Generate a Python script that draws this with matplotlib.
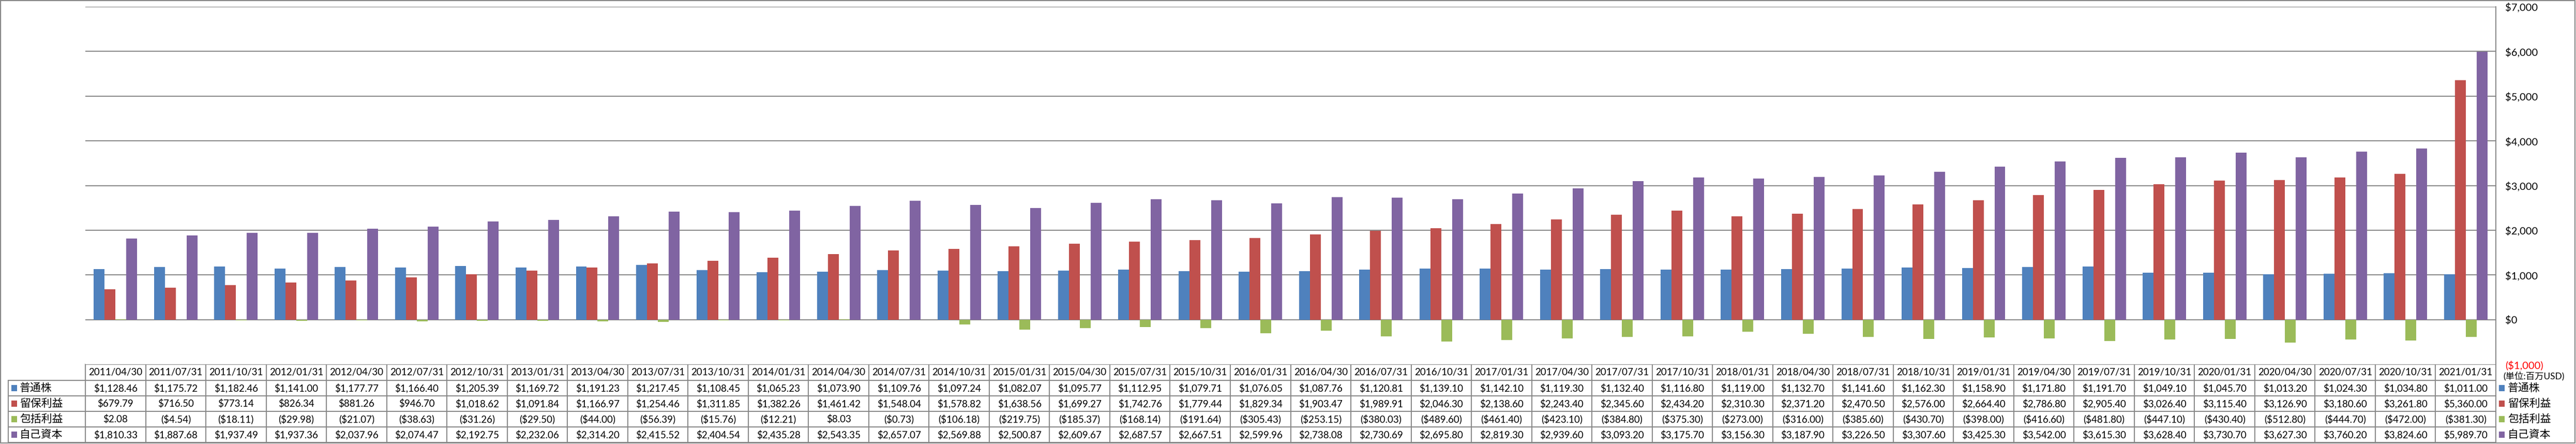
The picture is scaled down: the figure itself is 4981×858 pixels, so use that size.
import numpy as np
import matplotlib
matplotlib.use('Agg')
import matplotlib.pyplot as plt
from matplotlib import transforms
from matplotlib.patches import Rectangle

plt.rcParams['font.family'] = ['Lato', 'Noto Sans CJK JP', 'DejaVu Sans']

# data (単位:百万USD)
dates = ['2011/04/30', '2011/07/31', '2011/10/31', '2012/01/31', '2012/04/30', '2012/07/31',
         '2012/10/31', '2013/01/31', '2013/04/30', '2013/07/31', '2013/10/31', '2014/01/31',
         '2014/04/30', '2014/07/31', '2014/10/31', '2015/01/31', '2015/04/30', '2015/07/31',
         '2015/10/31', '2016/01/31', '2016/04/30', '2016/07/31', '2016/10/31', '2017/01/31',
         '2017/04/30', '2017/07/31', '2017/10/31', '2018/01/31', '2018/04/30', '2018/07/31',
         '2018/10/31', '2019/01/31', '2019/04/30', '2019/07/31', '2019/10/31', '2020/01/31',
         '2020/04/30', '2020/07/31', '2020/10/31', '2021/01/31']
common = [1128.46, 1175.72, 1182.46, 1141.00, 1177.77, 1166.40, 1205.39, 1169.72, 1191.23, 1217.45,
          1108.45, 1065.23, 1073.90, 1109.76, 1097.24, 1082.07, 1095.77, 1112.95, 1079.71, 1076.05,
          1087.76, 1120.81, 1139.10, 1142.10, 1119.30, 1132.40, 1116.80, 1119.00, 1132.70, 1141.60,
          1162.30, 1158.90, 1171.80, 1191.70, 1049.10, 1045.70, 1013.20, 1024.30, 1034.80, 1011.00]
retained = [679.79, 716.50, 773.14, 826.34, 881.26, 946.70, 1018.62, 1091.84, 1166.97, 1254.46,
            1311.85, 1382.26, 1461.42, 1548.04, 1578.82, 1638.56, 1699.27, 1742.76, 1779.44, 1829.34,
            1903.47, 1989.91, 2046.30, 2138.60, 2243.40, 2345.60, 2434.20, 2310.30, 2371.20, 2470.50,
            2576.00, 2664.40, 2786.80, 2905.40, 3026.40, 3115.40, 3126.90, 3180.60, 3261.80, 5360.00]
comprehensive = [2.08, -4.54, -18.11, -29.98, -21.07, -38.63, -31.26, -29.50, -44.00, -56.39,
                 -15.76, -12.21, 8.03, -0.73, -106.18, -219.75, -185.37, -168.14, -191.64, -305.43,
                 -253.15, -380.03, -489.60, -461.40, -423.10, -384.80, -375.30, -273.00, -316.00, -385.60,
                 -430.70, -398.00, -416.60, -481.80, -447.10, -430.40, -512.80, -444.70, -472.00, -381.30]
equity = [1810.33, 1887.68, 1937.49, 1937.36, 2037.96, 2074.47, 2192.75, 2232.06, 2314.20, 2415.52,
          2404.54, 2435.28, 2543.35, 2657.07, 2569.88, 2500.87, 2609.67, 2687.57, 2667.51, 2599.96,
          2738.08, 2730.69, 2695.80, 2819.30, 2939.60, 3093.20, 3175.70, 3156.30, 3187.90, 3226.50,
          3307.60, 3425.30, 3542.00, 3615.30, 3628.40, 3730.70, 3627.30, 3760.20, 3824.60, 5989.70]
names = ['普通株', '留保利益', '包括利益', '自己資本']
series = [common, retained, comprehensive, equity]
colors = ['#4F81BD', '#C0504D', '#9BBB59', '#8064A2']
yticks = list(range(-1000, 7001, 1000))

gray = '#868686'

def money(v, dec=2):
    s = f"${abs(v):,.{dec}f}"
    return f"({s})" if v < 0 else s

W, H = 4981, 858
fig = plt.figure(figsize=(W / 100, H / 100), dpi=100)
L, R, TOP, BOT = 165, 4826, 13, 704
ax = fig.add_axes([L / W, 1 - BOT / H, (R - L) / W, (BOT - TOP) / H])

n = len(dates)
x = np.arange(n)
bw = 0.18
for i, (vals, col) in enumerate(zip(series, colors)):
    ax.bar(x + (i - 1.5) * bw, vals, bw, color=col, linewidth=0, zorder=3)

ax.set_xlim(-0.5, n - 0.5)
ax.set_ylim(yticks[0], yticks[-1])
for v in yticks[1:]:
    ax.axhline(v, color=gray, lw=1.4, zorder=1)
ax.set_xticks([])
ax.set_yticks(yticks)
ax.set_yticklabels([money(v, 0) for v in yticks])
ax.yaxis.tick_right()
ax.tick_params(axis='y', length=0, pad=13, labelsize=14.5)
ax.get_yticklabels()[0].set_color('red')
for s in ['left', 'top', 'bottom']:
    ax.spines[s].set_visible(False)
ax.spines['right'].set_color(gray)
ax.spines['right'].set_linewidth(1.4)

# overlay in pixel coordinates for data table / frame
ov = fig.add_axes([0, 0, 1, 1], zorder=-1)
ov.set_xlim(0, W)
ov.set_ylim(H, 0)
ov.axis('off')
tr = transforms.blended_transform_factory(ax.transData, ov.transData)

rows_y = [735, 765, 795, 825, 855]
ov.plot([L, R], [704, 704], color=gray, lw=1.4)
for yy in rows_y:
    ov.plot([16, R], [yy, yy], color=gray, lw=1.4)
ov.plot([16, 16], [735, 855], color=gray, lw=1.4)
for k in range(n + 1):
    ov.plot([k - 0.5, k - 0.5], [704, 855], color=gray, lw=1.4, transform=tr)

for k, d in enumerate(dates):
    ov.text(k, 720, d, ha='center', va='center', fontsize=13.5, transform=tr)
for r, vals in enumerate(series):
    yc = (rows_y[r] + rows_y[r + 1]) / 2
    for k, v in enumerate(vals):
        ov.text(k, yc, money(v), ha='center', va='center', fontsize=13.5, transform=tr)
    ov.add_patch(Rectangle((22, yc - 6), 11, 12, color=colors[r], lw=0))
    ov.text(38, yc, names[r], ha='left', va='center', fontsize=15)
    ov.add_patch(Rectangle((4832, yc - 6), 11, 12, color=colors[r], lw=0))
    ov.text(4849, yc, names[r], ha='left', va='center', fontsize=15)

ov.text(4840, 727, '(単位:百万USD)', ha='left', va='center', fontsize=12.5)
ov.add_patch(Rectangle((1, 1), W - 3, H - 3, fill=False, edgecolor=gray, lw=1.5))

fig.savefig('out.png', dpi=100)
